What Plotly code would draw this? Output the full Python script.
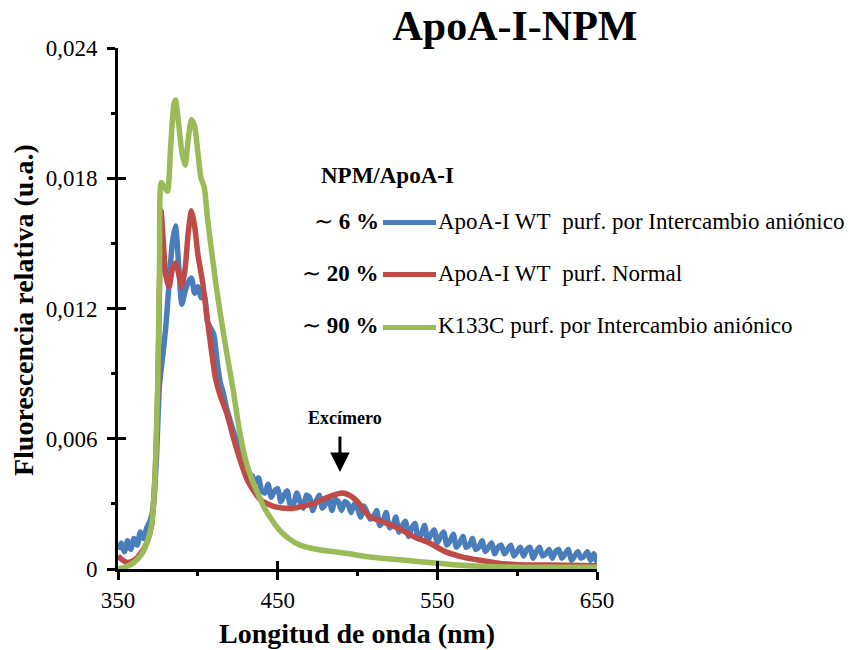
import plotly.graph_objects as go

# ---------------- data ----------------
wl_blue = list(range(350, 651, 2))
blue_vals = [
    0.0009, 0.0012, 0.0008, 0.0013, 0.0009, 0.0014, 0.0011, 0.0017, 0.0014, 0.0019,
    0.0022, 0.0028, 0.0050, 0.0085, 0.0098, 0.0112, 0.0132, 0.0150, 0.0158, 0.0140,
    0.0122, 0.0128, 0.0132, 0.0134, 0.0127, 0.0130, 0.0125, 0.0126, 0.0114, 0.0111,
    0.0108, 0.0096, 0.0086, 0.0081, 0.0074, 0.0069, 0.0064, 0.0060, 0.0055, 0.0052,
    0.0047, 0.0044, 0.0043, 0.0040, 0.0042, 0.0036, 0.0035, 0.0039, 0.0033, 0.0036,
    0.0037, 0.0031, 0.0034, 0.0036, 0.0029, 0.0030, 0.0035, 0.0031, 0.0028, 0.0034,
    0.0033, 0.0027, 0.0031, 0.0034, 0.0028, 0.0030, 0.0033, 0.0027, 0.0032, 0.0031,
    0.0027, 0.0031, 0.0030, 0.0026, 0.0030, 0.0028, 0.0024, 0.0029, 0.0026, 0.0023,
    0.0024, 0.0027, 0.0020, 0.0022, 0.0026, 0.0019, 0.0020, 0.0024, 0.0017, 0.0020,
    0.0022, 0.0015, 0.0019, 0.0021, 0.0014, 0.0016, 0.0020, 0.0013, 0.0016, 0.0018,
    0.0012, 0.0015, 0.0017, 0.0011, 0.0013, 0.0016, 0.0010, 0.0012, 0.0015, 0.0010,
    0.0011, 0.0014, 0.0009, 0.0010, 0.0013, 0.0008, 0.0010, 0.0012, 0.0007, 0.0010,
    0.0011, 0.0007, 0.0009, 0.0011, 0.0006, 0.0008, 0.0010, 0.0006, 0.0009, 0.0010,
    0.0005, 0.0008, 0.0010, 0.0006, 0.0007, 0.0009, 0.0005, 0.0008, 0.0009, 0.0005,
    0.0007, 0.0009, 0.0004, 0.0006, 0.0008, 0.0005, 0.0006, 0.0008, 0.0004, 0.0007,
    0.0003,
]

wl_red = [350, 353, 356, 360, 364, 368, 371, 373, 375, 376, 377, 378, 380, 382, 384,
          386, 388, 390, 392, 394, 396, 398, 400, 403, 407, 411, 414, 418, 424, 431,
          439, 447, 455, 460, 466, 472, 478, 485, 490, 495, 500, 504, 508, 515, 525,
          535, 545, 555, 566, 577, 587, 600, 620, 650]
red_vals = [0.0006, 0.0004, 0.0003, 0.0004, 0.0007, 0.0012, 0.0020, 0.0040, 0.0085, 0.0130,
            0.0165, 0.0155, 0.0135, 0.0130, 0.0138, 0.0141, 0.0136, 0.0130, 0.0138, 0.0155,
            0.0165, 0.0158, 0.0145, 0.0132, 0.0109, 0.0088, 0.0080, 0.0072, 0.0056, 0.0041,
            0.0032, 0.0029, 0.0028, 0.0028, 0.0029, 0.0030, 0.0032, 0.0034, 0.0035, 0.0034,
            0.0031, 0.0027, 0.0024, 0.0022, 0.0019, 0.0015, 0.0012, 0.0008, 0.00055, 0.0004,
            0.00028, 0.0002, 0.00018, 0.00015]

wl_green = [350, 355, 360, 365, 368, 371, 373, 375, 376, 377, 379, 381, 383, 385, 386,
            388, 390, 392, 394, 396, 398, 400, 402, 404, 406, 408, 411, 414, 418, 422,
            426, 430, 434, 438, 441, 446, 451, 457, 464, 475, 485, 495, 503, 515, 530,
            545, 560, 587, 620, 650]
green_vals = [0.0000, 0.0001, 0.0003, 0.0007, 0.0012, 0.0020, 0.0040, 0.0090, 0.0140, 0.0178,
              0.0176, 0.0174, 0.0195, 0.0214, 0.0216, 0.0205, 0.0192, 0.0186, 0.0198, 0.0207,
              0.0204, 0.0192, 0.0180, 0.0176, 0.0162, 0.0150, 0.0133, 0.0118, 0.0100, 0.0083,
              0.0064, 0.0050, 0.0041, 0.0034, 0.0029, 0.0023, 0.0018, 0.0014, 0.0011, 0.0009,
              0.0008, 0.0007, 0.0006, 0.0005, 0.0004, 0.0003, 0.0002, 0.0001, 0.00008, 0.00008]

series_names = ["ApoA-I WT  purf. por Intercambio aniónico",
                "ApoA-I WT  purf. Normal",
                "K133C purf. por Intercambio aniónico"]
series_pct = ["6 %", "20 %", "90 %"]
colors = ["#4A7EBB", "#BE4B48", "#9BBB59"]

x_ticks = [350, 450, 550, 650]
y_ticks = [0, 0.006, 0.012, 0.018, 0.024]
y_ticktext = ["0", "0,006", "0,012", "0,018", "0,024"]

excimer_x = 489
excimer_y = 0.00447

FONT = "Liberation Serif, Times New Roman, serif"

fig = go.Figure()
for wl, vals, c, n in [(wl_blue, blue_vals, colors[0], series_names[0]),
                       (wl_red, red_vals, colors[1], series_names[1]),
                       (wl_green, green_vals, colors[2], series_names[2])]:
    fig.add_trace(go.Scatter(x=wl, y=vals, mode="lines", name=n,
                             line=dict(color=c, width=5.5, shape="spline", smoothing=0.6),
                             showlegend=False))

# dummy trace for overlay axes (inside half of crossing ticks)
fig.add_trace(go.Scatter(x=[None], y=[None], xaxis="x2", yaxis="y2",
                         showlegend=False, hoverinfo="skip"))

axis_common = dict(showgrid=False, zeroline=False, color="black")
fig.update_layout(
    width=858, height=650,
    margin=dict(l=118, r=261, t=48, b=81),
    paper_bgcolor="white", plot_bgcolor="white",
    font=dict(family=FONT, color="black"),
    xaxis=dict(range=[350, 650], tickvals=x_ticks, ticks="outside", ticklen=8, tickwidth=3,
               tickcolor="black", showline=True, linewidth=3, linecolor="black",
               tickfont=dict(size=23, family=FONT),
               minor=dict(tickvals=[400, 500, 600], ticks="outside", ticklen=4,
                          tickwidth=3, tickcolor="black"),
               **axis_common),
    yaxis=dict(range=[0, 0.024], tickvals=y_ticks, ticktext=y_ticktext, ticks="outside",
               ticklen=8, tickwidth=3, tickcolor="black", showline=True, linewidth=3,
               linecolor="black", tickfont=dict(size=23, family=FONT),
               ticklabelstandoff=5,
               minor=dict(tickvals=[0.003, 0.009, 0.015, 0.021], ticks="outside", ticklen=4,
                          tickwidth=3, tickcolor="black"),
               **axis_common),
    xaxis2=dict(overlaying="x", anchor="y", range=[350, 650], tickvals=x_ticks,
                ticks="inside", ticklen=8, tickwidth=3, tickcolor="black",
                showticklabels=False, showline=False, **axis_common),
    yaxis2=dict(overlaying="y", anchor="x", range=[0, 0.024], tickvals=y_ticks,
                ticks="inside", ticklen=8, tickwidth=3, tickcolor="black",
                showticklabels=False, showline=False, **axis_common),
    title=dict(text="<b>ApoA-I-NPM</b>", x=515 / 858, xref="container", xanchor="center",
               y=1 - 25 / 650, yref="container", yanchor="middle",
               font=dict(size=42, family=FONT, color="black")),
)

annotations = [
    dict(text="<b>Fluorescencia relativa (u.a.)</b>", textangle=-90, xref="paper", yref="paper",
         x=(23 - 118) / 479, y=0.497, xanchor="center", yanchor="middle", showarrow=False,
         font=dict(size=28, family=FONT)),
    dict(text="<b>Longitud de onda (nm)</b>", xref="paper", yref="paper",
         x=0.499, y=(569 - 633) / 521, xanchor="center", yanchor="middle", showarrow=False,
         font=dict(size=28, family=FONT)),
    dict(text="<b>NPM/ApoA-I</b>", xref="paper", yref="paper", x=(387 - 118) / 479,
         y=(569 - 175) / 521, xanchor="center", yanchor="middle", showarrow=False,
         font=dict(size=23, family=FONT)),
    dict(text="<b>Excímero</b>", x=492, y=0.00696, xanchor="center", yanchor="middle",
         showarrow=False, font=dict(size=18, family=FONT)),
    dict(text="", x=excimer_x, y=excimer_y, ax=0, ay=-37, showarrow=True, arrowhead=2,
         arrowsize=1.3, arrowwidth=3, arrowcolor="black"),
]

shapes = []
row_py = [221, 273, 326]
for i in range(3):
    yp = (569 - row_py[i]) / 521
    annotations.append(dict(text="∼ <b>" + series_pct[i] + "</b>", xref="paper", yref="paper",
                            x=(381 - 118) / 479, y=yp, xanchor="right", yanchor="middle",
                            showarrow=False, font=dict(size=23, family=FONT)))
    annotations.append(dict(text=series_names[i].replace("  ", "&nbsp; "), xref="paper",
                            yref="paper", x=(436 - 118) / 479, y=yp, xanchor="left",
                            yanchor="middle", showarrow=False, font=dict(size=23, family=FONT)))
    shapes.append(dict(type="line", xref="paper", yref="paper", x0=(383 - 118) / 479,
                       x1=(436 - 118) / 479, y0=yp - 0.003, y1=yp - 0.003,
                       line=dict(color=colors[i], width=5)))

fig.update_layout(annotations=annotations, shapes=shapes)
fig.write_html("out.html")
